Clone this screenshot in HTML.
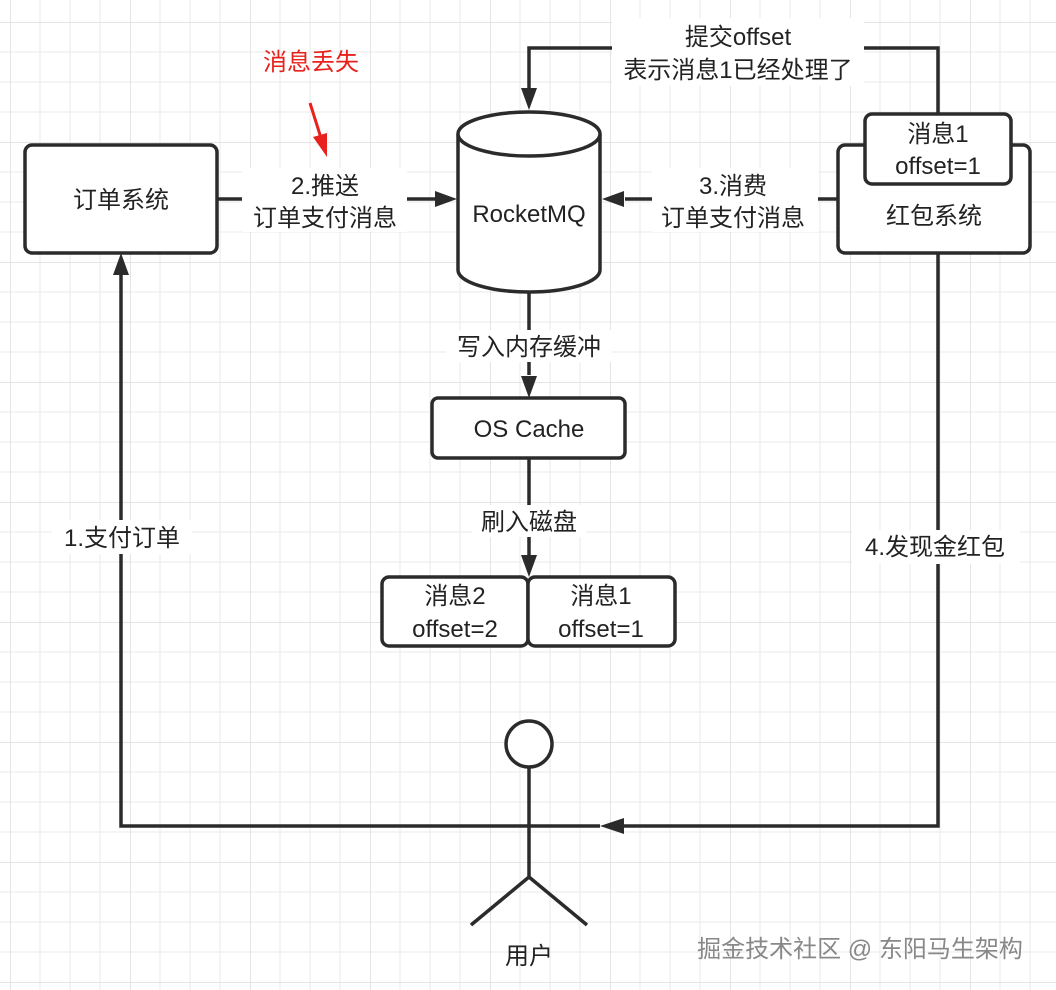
<!DOCTYPE html>
<html><head><meta charset="utf-8"><style>
html,body{margin:0;padding:0;background:#fff}
svg{display:block}
text{font-family:"Liberation Sans","Noto Sans CJK SC",sans-serif;fill:#222}
</style></head><body>
<svg width="1056" height="990" viewBox="0 0 1056 990" xmlns="http://www.w3.org/2000/svg">
<defs>
<pattern id="g" x="10" y="22" width="120" height="120" patternUnits="userSpaceOnUse">
<path d="M30 0V120M60 0V120M90 0V120M0 30H120M0 60H120M0 90H120" stroke="#f0f0f0" stroke-width="1.5"/>
<path d="M0 0V120M0 0H120" stroke="#e4e4e4" stroke-width="2"/>
</pattern>
</defs>
<rect width="1056" height="990" fill="#fff"/>
<rect width="1056" height="990" fill="url(#g)"/>
<g stroke="#2b2b2b" stroke-width="3.5" fill="none">
<path d="M459 826H121V262"/>
<path d="M121 253l-8 22h16z" fill="#2b2b2b" stroke="none"/>
<path d="M938 253V826H622"/>
<path d="M600 826l24 -8v16z" fill="#2b2b2b" stroke="none"/>
<path d="M938 114V48H529V90"/>
<path d="M529 110l-8 -22h16z" fill="#2b2b2b" stroke="none"/>
<path d="M217 199H435"/>
<path d="M457 199l-22 -8v16z" fill="#2b2b2b" stroke="none"/>
<path d="M838 199H625"/>
<path d="M602 199l22 -8v16z" fill="#2b2b2b" stroke="none"/>
<path d="M529 292V375"/>
<path d="M529 398l-8 -22h16z" fill="#2b2b2b" stroke="none"/>
<path d="M529 458V555"/>
<path d="M529 577l-8 -22h16z" fill="#2b2b2b" stroke="none"/>
</g>
<g fill="#fff">
<rect x="242" y="168" width="165" height="64"/>
<rect x="652" y="168" width="166" height="64"/>
<rect x="612" y="18" width="252" height="68"/>
<rect x="446" y="330" width="166" height="32"/>
<rect x="472" y="505" width="114" height="32"/>
<rect x="52" y="520" width="140" height="34"/>
<rect x="852" y="530" width="168" height="34"/>
</g>
<g stroke="#2b2b2b" stroke-width="3.5" fill="#fff">
<rect x="25" y="145" width="192" height="108" rx="7"/>
<rect x="838" y="145" width="192" height="108" rx="7"/>
<rect x="865" y="114" width="146" height="70" rx="7"/>
<path d="M458 134V270A71 22 0 0 0 600 270V134"/>
<ellipse cx="529" cy="134" rx="71" ry="22"/>
<rect x="432" y="398" width="193" height="60" rx="6"/>
<rect x="382" y="577" width="146" height="69" rx="7"/>
<rect x="528" y="577" width="147" height="69" rx="7"/>
<circle cx="529" cy="744" r="23"/>
<path d="M529 767V877M459 826H600M529 877L471 925M529 877L587 925" fill="none"/>
</g>
<g font-size="24" text-anchor="middle">
<text x="121" y="208">订单系统</text>
<text x="325" y="194">2.推送</text>
<text x="325" y="226">订单支付消息</text>
<text x="529" y="222">RocketMQ</text>
<text x="733" y="194">3.消费</text>
<text x="733" y="226">订单支付消息</text>
<text x="934" y="224">红包系统</text>
<text x="938" y="142">消息1</text>
<text x="938" y="174">offset=1</text>
<text x="738" y="45">提交offset</text>
<text x="738" y="78">表示消息1已经处理了</text>
<text x="529" y="355">写入内存缓冲</text>
<text x="529" y="437">OS Cache</text>
<text x="529" y="530">刷入磁盘</text>
<text x="455" y="604">消息2</text>
<text x="455" y="637">offset=2</text>
<text x="601" y="604">消息1</text>
<text x="601" y="637">offset=1</text>
<text x="122" y="546">1.支付订单</text>
<text x="935" y="555">4.发现金红包</text>
<text x="529" y="964">用户</text>
<text x="311" y="70" style="fill:#e8211c">消息丢失</text>
<text x="860" y="957" style="fill:#888">掘金技术社区 @ 东阳马生架构</text>
</g>
<path d="M310 103L321 138" stroke="#e8211c" stroke-width="3"/>
<path d="M327 157l-14 -20l14 -4z" fill="#e8211c"/>
</svg>
</body></html>
